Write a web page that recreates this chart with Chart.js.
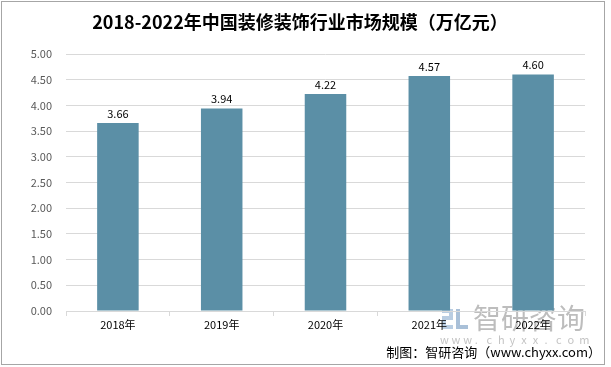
<!DOCTYPE html>
<html>
<head>
<meta charset="utf-8">
<script src="https://cdn.jsdelivr.net/npm/chart.js@4/dist/chart.umd.min.js"></script>
<style>
html,body{margin:0;padding:0;background:#fff;}
#wrap{position:relative;width:611px;height:367px;}
</style>
</head>
<body>
<div id="wrap"><canvas id="c" width="611" height="367"></canvas></div>
<script>
const categories = ["2018年", "2019年", "2020年", "2021年", "2022年"];
const marketSize = [3.66, 3.94, 4.22, 4.57, 4.60];
const yTicks = [0, 0.5, 1, 1.5, 2, 2.5, 3, 3.5, 4, 4.5, 5];
const titleText = "2018-2022年中国装修装饰行业市场规模（万亿元）";
const footerText = "制图：智研咨询（www.chyxx.com）";

const FONT = "'Noto Sans CJK SC', 'Liberation Sans', sans-serif";

const decor = {
  id: 'decor',
  beforeDraw(chart) {
    const ctx = chart.ctx;
    ctx.save();
    ctx.fillStyle = '#ffffff';
    ctx.fillRect(0, 0, chart.width, chart.height);
    // watermark logo
    ctx.fillStyle = '#b9cde2';
    ctx.fillRect(442, 309, 11, 4);
    ctx.fillRect(449, 309, 4, 11);
    ctx.fillRect(442, 316, 11, 4);
    ctx.fillRect(442, 316, 4, 12);
    ctx.fillRect(442, 325, 11, 4);
    ctx.fillStyle = '#a9c0d8';
    ctx.fillRect(456, 309, 4, 20);
    ctx.fillRect(456, 325, 12, 4);
    ctx.fillStyle = '#bdbdbd';
    ctx.font = "28px " + FONT;
    ctx.textBaseline = 'middle';
    ctx.textAlign = 'left';
    ctx.fillText("智研咨询", 473, 318);
    ctx.fillStyle = '#c4c4c4';
    ctx.font = "11px " + FONT;
    const s = "www.chyxx.com";
    for (let i = 0; i < s.length; i++) {
      ctx.fillText(s[i], 440 + i * 11.6, 340);
    }
    ctx.restore();
  },
  afterDraw(chart) {
    const ctx = chart.ctx;
    ctx.save();
    ctx.fillStyle = '#000';
    ctx.textAlign = 'center';
    ctx.textBaseline = 'middle';
    ctx.font = "bold 18px " + FONT;
    ctx.fillText(titleText, 300, 22);
    ctx.textAlign = 'right';
    ctx.font = "13px " + FONT;
    ctx.fillText(footerText, 601, 352);
    ctx.strokeStyle = '#a6a6a6';
    ctx.lineWidth = 1;
    ctx.strokeRect(1.5, 1.5, 603, 363);
    ctx.restore();
  },
  afterDatasetsDraw(chart) {
    const ctx = chart.ctx;
    const meta = chart.getDatasetMeta(0);
    ctx.save();
    ctx.fillStyle = '#000';
    ctx.font = "11px " + FONT;
    ctx.textAlign = 'center';
    ctx.textBaseline = 'bottom';
    meta.data.forEach((bar, i) => {
      ctx.fillText(marketSize[i].toFixed(2), bar.x, bar.y - 4);
    });
    ctx.restore();
  }
};

new Chart(document.getElementById('c'), {
  type: 'bar',
  data: {
    labels: categories,
    datasets: [{
      data: marketSize,
      backgroundColor: '#5b8fa6',
      borderWidth: 0,
      categoryPercentage: 1,
      barPercentage: 0.4
    }]
  },
  options: {
    responsive: false,
    animation: false,
    devicePixelRatio: 1,
    layout: { padding: { top: 54, right: 26, bottom: 0, left: 0 } },
    plugins: { legend: { display: false }, title: { display: false }, tooltip: { enabled: false } },
    scales: {
      x: {
        offset: true,
        grid: { offset: true, drawOnChartArea: false, drawTicks: true, tickLength: 5, color: '#d9d9d9' },
        border: { display: true, color: '#d9d9d9' },
        ticks: { color: '#000', font: { family: FONT, size: 11 }, padding: 2 },
        afterFit(scale) { scale.height = 56; }
      },
      y: {
        min: 0, max: 5,
        afterBuildTicks(scale) { scale.ticks = yTicks.map(v => ({ value: v })); },
        grid: { color: '#d9d9d9', drawTicks: false },
        border: { display: false },
        ticks: { color: '#595959', font: { family: FONT, size: 11 }, padding: 14, callback: v => Number(v).toFixed(2) },
        afterFit(scale) { scale.width = 66; }
      }
    }
  },
  plugins: [decor]
});
</script>
</body>
</html>
